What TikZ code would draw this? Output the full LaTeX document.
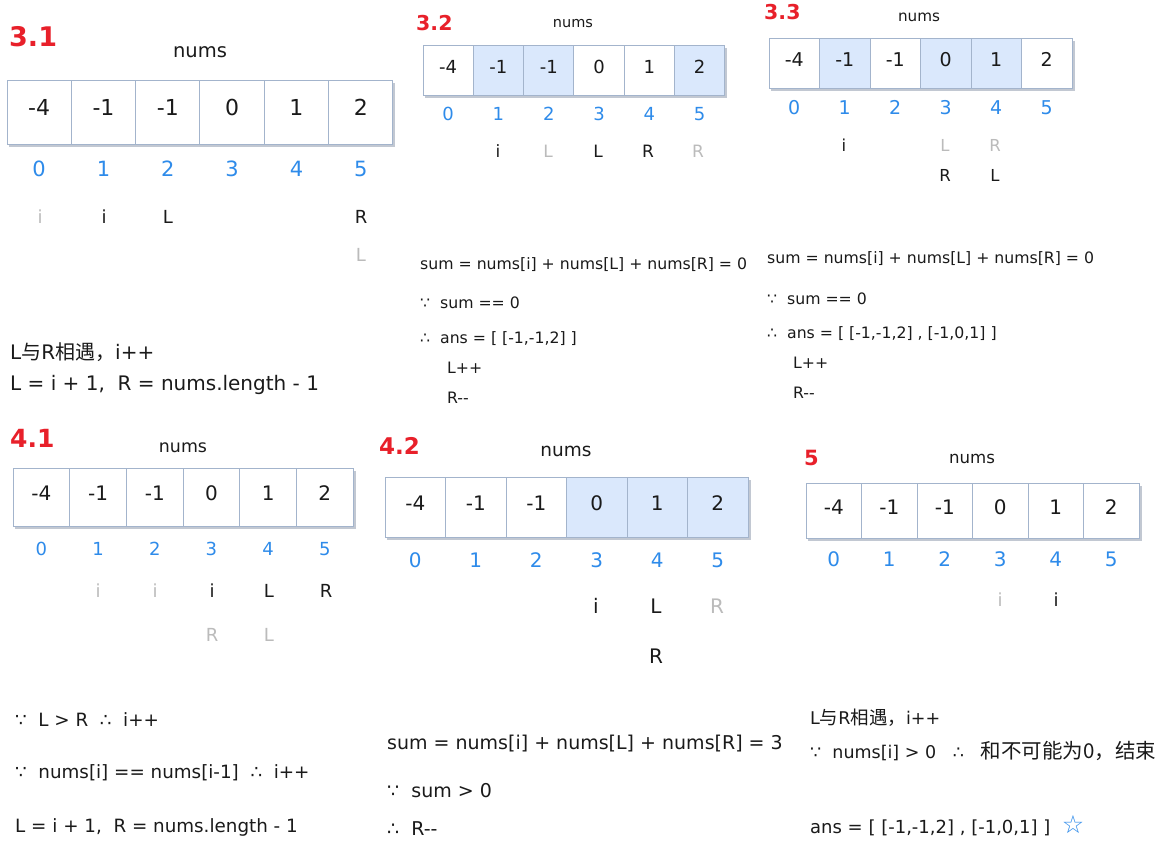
\documentclass[tikz,border=0pt]{standalone}
\usepackage{fontspec}
\setmainfont{DejaVu Sans}
\newfontfamily\cjk{Noto Sans CJK SC}
\newfontfamily\symf{DejaVu Sans}
\definecolor{cellborder}{HTML}{A3B4CC}
\definecolor{shadowc}{HTML}{C2C8D2}
\definecolor{hlblue}{HTML}{DAE8FC}
\definecolor{idxblue}{HTML}{2E8BEA}
\definecolor{labred}{HTML}{E8202A}
\definecolor{faded}{HTML}{BBBBBB}
\definecolor{ink}{HTML}{1A1A1A}
\newcommand\fs[1]{\fontsize{#1}{#1}\selectfont}
\newcommand\bcs{{\symf ∵}}
\newcommand\thf{{\symf ∴}}
\newcommand\arrdraw[9]{%
  \fill[shadowc] (#2+2,#3+2.5) rectangle (#2+6*#4+2.5,#3+#5+2.5);
  \foreach \v/\s [count=\k from 0] in {#6} {
    \node[\s, minimum width=#4, minimum height=#5, font=\fs{#7}] (#1c\k) at (#2+\k*#4+#4/2, #3+#5/2) {\v};
    \node[idx, font=\fs{#8}] (#1i\k) at (#2+\k*#4+#4/2, #9) {\k};
  }%
}
\begin{document}
\begin{tikzpicture}[x=1pt,y=-1pt,
  cellplain/.style={draw=cellborder, line width=1pt, fill=white, inner sep=0pt, text height=0.72em, text depth=0pt, text=ink},
  cellhl/.style={cellplain, fill=hlblue},
  idx/.style={inner sep=0pt, text height=0.72em, text depth=0pt, text=idxblue},
  ptr/.style={inner sep=0pt, text height=0.72em, text depth=0pt, text=ink},
  ptrf/.style={ptr, text=faded},
  lab/.style={inner sep=0pt, anchor=west, text height=0.72em, text depth=0pt, text=labred, font=\bfseries},
  title/.style={inner sep=0pt, anchor=base, text=ink},
  txt/.style={inner sep=0pt, anchor=base west, text=ink}]
\useasboundingbox (0,0) rectangle (1166,847);
\fill[white] (0,0) rectangle (1166,847);

% ---------- 3.1 ----------
\node[lab, font=\bfseries\fs{27}] (l31) at (9,43) {3.1};
\node[title, font=\fs{19.5}] (n31) at (200,57) {nums};
\arrdraw{a}{7}{80}{64.33}{64}{-4/cellplain,-1/cellplain,-1/cellplain,0/cellplain,1/cellplain,2/cellplain}{22}{21}{172.5}
\node[ptrf, font=\fs{18}] (p31a) at (40,220) {i};
\node[ptr, font=\fs{18}] (p31b) at (104,220) {i};
\node[ptr, font=\fs{18}] (p31c) at (168,220) {L};
\node[ptr, font=\fs{18}] (p31d) at (361,220) {R};
\node[ptrf, font=\fs{18}] (p31e) at (361,258) {L};
\node[txt, font=\fs{20}] (t31a) at (10,359) {L{\cjk 与}R{\cjk 相遇，}i++};
\node[txt, font=\fs{20}] (t31b) at (10,390) {L = i + 1,\ \ R = nums.length - 1};

% ---------- 3.2 ----------
\node[lab, font=\bfseries\fs{20.5}] (l32) at (416,27) {3.2};
\node[title, font=\fs{14.5}] (n32) at (573,27) {nums};
\arrdraw{b}{423}{45}{50.3}{50}{-4/cellplain,-1/cellhl,-1/cellhl,0/cellplain,1/cellplain,2/cellhl}{18}{18}{117}
\node[ptr, font=\fs{17}] (p32a) at (498,154) {i};
\node[ptrf, font=\fs{17}] (p32b) at (548,154) {L};
\node[ptr, font=\fs{17}] (p32c) at (598,154) {L};
\node[ptr, font=\fs{17}] (p32d) at (648,154) {R};
\node[ptrf, font=\fs{17}] (p32e) at (698,154) {R};
\node[txt, font=\fs{15.7}] (t32a) at (420,269) {sum = nums[i] + nums[L] + nums[R] = 0};
\node[txt, font=\fs{15.7}] (t32b) at (420,308) {\bcs\ \ sum == 0};
\node[txt, font=\fs{15.7}] (t32c) at (420,343) {\thf\ \ ans = [ [-1,-1,2] ]};
\node[txt, font=\fs{15.7}] (t32d) at (447,373) {L++};
\node[txt, font=\fs{15.7}] (t32e) at (447,403) {R-{}-};

% ---------- 3.3 ----------
\node[lab, font=\bfseries\fs{20.5}] (l33) at (764,15.5) {3.3};
\node[title, font=\fs{15.2}] (n33) at (919,21) {nums};
\arrdraw{c}{769}{38}{50.5}{50}{-4/cellplain,-1/cellhl,-1/cellplain,0/cellhl,1/cellhl,2/cellplain}{19}{19}{111}
\node[ptr, font=\fs{16.5}] (p33a) at (844,148) {i};
\node[ptrf, font=\fs{16.5}] (p33b) at (945,148) {L};
\node[ptrf, font=\fs{16.5}] (p33c) at (995,148) {R};
\node[ptr, font=\fs{16.5}] (p33d) at (945,178) {R};
\node[ptr, font=\fs{16.5}] (p33e) at (995,178) {L};
\node[txt, font=\fs{15.7}] (t33a) at (767,263) {sum = nums[i] + nums[L] + nums[R] = 0};
\node[txt, font=\fs{15.7}] (t33b) at (767,304) {\bcs\ \ sum == 0};
\node[txt, font=\fs{15.7}] (t33c) at (767,338) {\thf\ \ ans = [ [-1,-1,2] , [-1,0,1] ]};
\node[txt, font=\fs{15.7}] (t33d) at (793,368) {L++};
\node[txt, font=\fs{15.7}] (t33e) at (793,398) {R-{}-};

% ---------- 4.1 ----------
\node[lab, font=\bfseries\fs{25}] (l41) at (10,444) {4.1};
\node[title, font=\fs{17.4}] (n41) at (183,452) {nums};
\arrdraw{d}{13}{468}{56.7}{58}{-4/cellplain,-1/cellplain,-1/cellplain,0/cellplain,1/cellplain,2/cellplain}{20}{18}{552}
\node[ptrf, font=\fs{18}] (p41a) at (98,594) {i};
\node[ptrf, font=\fs{18}] (p41b) at (155,594) {i};
\node[ptr, font=\fs{18}] (p41c) at (212,594) {i};
\node[ptr, font=\fs{18}] (p41d) at (269,594) {L};
\node[ptr, font=\fs{18}] (p41e) at (326,594) {R};
\node[ptrf, font=\fs{18}] (p41f) at (212,638) {R};
\node[ptrf, font=\fs{18}] (p41g) at (269,638) {L};
\node[txt, font=\fs{18.3}] (t41a) at (15,726) {\bcs\ \ L > R \ \thf\ \ i++};
\node[txt, font=\fs{18.3}] (t41b) at (15,778) {\bcs\ \ nums[i] == nums[i-1] \ \thf\ \ i++};
\node[txt, font=\fs{18.3}] (t41c) at (15,832) {L = i + 1,\ \ R = nums.length - 1};

% ---------- 4.2 ----------
\node[lab, font=\bfseries\fs{23}] (l42) at (379,451) {4.2};
\node[title, font=\fs{18.5}] (n42) at (566,456) {nums};
\arrdraw{e}{385}{477}{60.5}{60}{-4/cellplain,-1/cellplain,-1/cellplain,0/cellhl,1/cellhl,2/cellhl}{20}{20}{564}
\node[ptr, font=\fs{20}] (p42a) at (596,610) {i};
\node[ptr, font=\fs{20}] (p42b) at (656,610) {L};
\node[ptrf, font=\fs{20}] (p42c) at (717,610) {R};
\node[ptr, font=\fs{20}] (p42d) at (656,660) {R};
\node[txt, font=\fs{19}] (t42a) at (387,749) {sum = nums[i] + nums[L] + nums[R] = 3};
\node[txt, font=\fs{19}] (t42b) at (387,797) {\bcs\ \ sum > 0};
\node[txt, font=\fs{19}] (t42c) at (387,835) {\thf\ \ R-{}-};

% ---------- 5 ----------
\node[lab, font=\bfseries\fs{21}] (l5) at (804,462) {5};
\node[title, font=\fs{16.6}] (n5) at (972,463) {nums};
\arrdraw{f}{806}{483}{55.5}{55}{-4/cellplain,-1/cellplain,-1/cellplain,0/cellplain,1/cellplain,2/cellplain}{20}{20}{563}
\node[ptrf, font=\fs{18}] (p5a) at (1000,603) {i};
\node[ptr, font=\fs{18}] (p5b) at (1056,603) {i};
\node[txt, font=\fs{17.5}] (t5a) at (810,724) {L{\cjk\fs{18.5}与}R{\cjk\fs{18.5}相遇，}i++};
\node[txt, font=\fs{17.5}] (t5b) at (810,758) {\bcs\ \ nums[i] > 0 \ \ \thf\ \ \ {\cjk\fs{20.5}和不可能为0，结束}};
\node[txt, font=\fs{18}] (t5c) at (810,833) {ans = [ [-1,-1,2] , [-1,0,1] ] \ {\symf\fs{25}\color{idxblue}☆}};
\end{tikzpicture}
\end{document}
